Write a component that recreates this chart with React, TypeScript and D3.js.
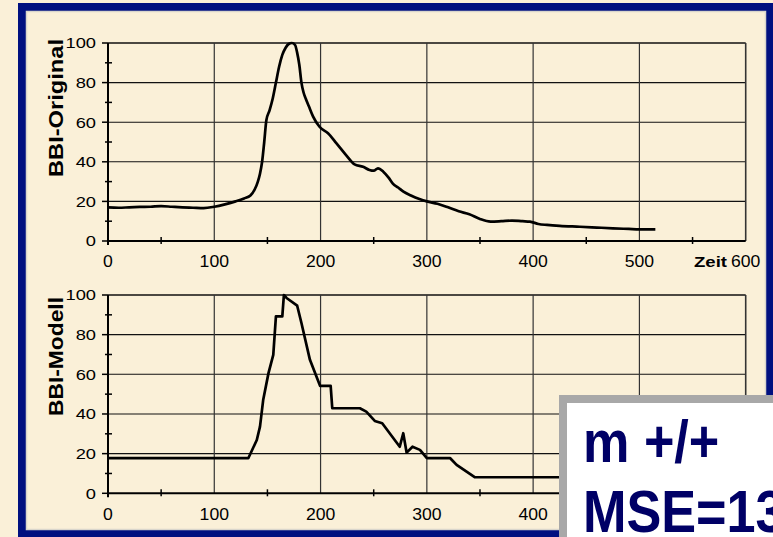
import React from "react";
import * as d3 from "d3";

const W = 773;
const H = 537;

// time axis
const xTicksMajor = [0, 100, 200, 300, 400, 500, 600];
const xTicksMinor = [50, 150, 250, 350, 450, 550];
const yTicksMajor = [0, 20, 40, 60, 80, 100];
const yTicksMinor = [10, 30, 50, 70, 90];

// BBI-Original: [Zeit, Wert]
const originalSeries: [number, number][] = [
  [0, 17], [10, 16.8], [20, 17], [30, 17.2], [40, 17.3], [50, 17.6], [60, 17.3],
  [70, 17], [80, 16.8], [90, 16.6], [100, 17.3], [110, 18.5], [120, 20],
  [128, 21.5], [134, 23], [138, 26], [141, 30], [143, 34], [145, 40], [147, 50],
  [149, 61], [152, 66], [155, 72], [158, 80], [161, 88], [164, 94], [167, 97.5],
  [170, 99.5], [173, 100], [176, 99], [178, 95], [180, 89], [182, 80], [184, 75],
  [186, 72], [189, 68], [193, 62.8], [199, 57.7], [207, 54.4], [215, 49.3],
  [224, 43.4], [232, 38.7], [240, 37.5], [246, 35.9], [250, 35.5], [254, 36.7],
  [259, 35], [264, 32], [268, 29], [273, 27], [278, 24.9], [285, 23], [293, 21.2],
  [300, 20], [310, 18.8], [320, 17], [330, 15], [340, 13.5], [350, 11.1],
  [360, 9.8], [370, 10], [380, 10.3], [390, 10], [397, 9.8], [405, 8.6],
  [413, 8.1], [425, 7.6], [444, 7.2], [460, 6.8], [475, 6.4], [490, 6.1],
  [500, 5.9], [515, 5.9],
];

// BBI-Modell: [Zeit, Wert]
const modelSeries: [number, number][] = [
  [0, 17.7], [132, 17.7], [140, 26.9], [143, 33.6], [146, 47], [151, 60.6],
  [155.5, 69.8], [158, 89.2], [164, 89.2], [165.5, 100], [168, 98.5], [178, 94.6],
  [182, 85.9], [190, 67.3], [199.5, 54.2], [209.5, 54.2], [211, 42.9], [237, 42.9],
  [243, 41.2], [251, 36.5], [258, 35.3], [274.5, 23.5], [277.8, 30.3], [281, 20.5],
  [286.5, 23.5], [293.5, 21.9], [300, 17.7], [322, 17.7], [328, 14.3], [345, 8.1],
  [515, 8.1],
];

const titleOriginal = "BBI-Original";
const titleModel = "BBI-Modell";
const xTitle = "Zeit";
const boxLines = ["m +/+", "MSE=13"];

const FONT = "'Liberation Sans', Arial, sans-serif";
const BG = "#FAF0D8";
const NAVY = "#001080";

const x = d3.scaleLinear().domain([0, 600]).range([108, 745.7]);

function Panel({
  y,
  series,
  title,
  titleLen,
  titleCy,
  curve,
  labelMax,
  showZeit,
}: {
  y: d3.ScaleLinear<number, number>;
  series: [number, number][];
  title: string;
  titleLen: number;
  titleCy: number;
  curve: d3.CurveFactory;
  labelMax: number;
  showZeit: boolean;
}) {
  const [y0, y1] = [y(0), y(100)];
  const line = d3
    .line<[number, number]>()
    .x((d) => x(d[0]))
    .y((d) => y(d[1]))
    .curve(curve);
  return (
    <g>
      {yTicksMajor.filter((v) => v > 0).map((v) => (
        <line key={"h" + v} x1={x(0)} x2={x(600)} y1={y(v)} y2={y(v)} stroke="#111" strokeWidth={v === 100 ? 1.6 : 1.1} />
      ))}
      {xTicksMajor.filter((v) => v > 0).map((v) => (
        <line key={"v" + v} x1={x(v)} x2={x(v)} y1={y1} y2={y0} stroke="#333" strokeWidth={v === 600 ? 1.6 : 1.2} />
      ))}
      <line x1={x(0)} x2={x(600)} y1={y0} y2={y0} stroke="#000" strokeWidth={2} />
      <line x1={x(0)} x2={x(0)} y1={y1} y2={y0 + 4} stroke="#000" strokeWidth={2} />
      {yTicksMajor.map((v) => (
        <line key={"ym" + v} x1={x(0) - 6} x2={x(0)} y1={y(v)} y2={y(v)} stroke="#000" strokeWidth={1.5} />
      ))}
      {yTicksMinor.map((v) => (
        <line key={"yn" + v} x1={x(0) - 3} x2={x(0) + 4} y1={y(v)} y2={y(v)} stroke="#000" strokeWidth={1.5} />
      ))}
      {xTicksMinor.map((v) => (
        <line key={"xn" + v} x1={x(v)} x2={x(v)} y1={y0 - 4} y2={y0 + 3} stroke="#000" strokeWidth={1.5} />
      ))}
      {yTicksMajor.map((v) => (
        <text
          key={"yl" + v}
          transform={`translate(96,${y(v) + 5.4}) scale(1.22,1)`}
          textAnchor="end"
          fontFamily={FONT}
          fontSize={15}
          fill="#000"
        >
          {v}
        </text>
      ))}
      {xTicksMajor.filter((v) => v <= labelMax).map((v) => (
        <text
          key={"xl" + v}
          transform={`translate(${x(v)},${y0 + 26.3}) scale(1.1,1)`}
          textAnchor="middle"
          fontFamily={FONT}
          fontSize={16}
          fill="#000"
        >
          {v}
        </text>
      ))}
      {showZeit && (
        <text
          x={727}
          y={y0 + 26.3}
          textAnchor="end"
          fontFamily={FONT}
          fontSize={15}
          fontWeight="bold"
          textLength={33}
          lengthAdjust="spacingAndGlyphs"
        >
          {xTitle}
        </text>
      )}
      <text
        transform={`translate(63.3,${titleCy}) rotate(-90)`}
        textAnchor="middle"
        fontFamily={FONT}
        fontSize={21}
        fontWeight="bold"
        textLength={titleLen}
        lengthAdjust="spacingAndGlyphs"
      >
        {title}
      </text>
      <path d={line(series) || ""} fill="none" stroke="#000" strokeWidth={2.7} strokeLinejoin="round" />
    </g>
  );
}

export default function App() {
  const yTop = d3.scaleLinear().domain([0, 100]).range([241, 43]);
  const yBot = d3.scaleLinear().domain([0, 100]).range([493.3, 295]);
  return (
    <div style={{ position: "absolute", left: 0, top: 0, width: W, height: H }}>
      <svg width={W} height={H} style={{ display: "block" }}>
        <rect x={0} y={0} width={W} height={H} fill={BG} />
        <rect x={18} y={3} width={W - 18} height={H - 3} fill={NAVY} />
        <rect x={26.5} y={11.5} width={739} height={518} fill={BG} stroke="#d9d6cc" strokeWidth={1.5} />
        <Panel y={yTop} series={originalSeries} title={titleOriginal} titleLen={138} titleCy={108} curve={d3.curveMonotoneX} labelMax={600} showZeit={true} />
        <Panel y={yBot} series={modelSeries} title={titleModel} titleLen={119} titleCy={356.5} curve={d3.curveLinear} labelMax={400} showZeit={false} />
        <rect x={559} y={395} width={260} height={180} fill="#a8a8a8" />
        <rect x={567} y={403} width={250} height={170} fill="#ffffff" />
        {boxLines.map((s, i) => (
          <text
            key={s}
            transform={`translate(583,${461.7 + i * 70}) scale(0.87,1)`}
            fontFamily={FONT}
            fontSize={60}
            fontWeight="bold"
            fill="#000066"
          >
            {s}
          </text>
        ))}
      </svg>
    </div>
  );
}
